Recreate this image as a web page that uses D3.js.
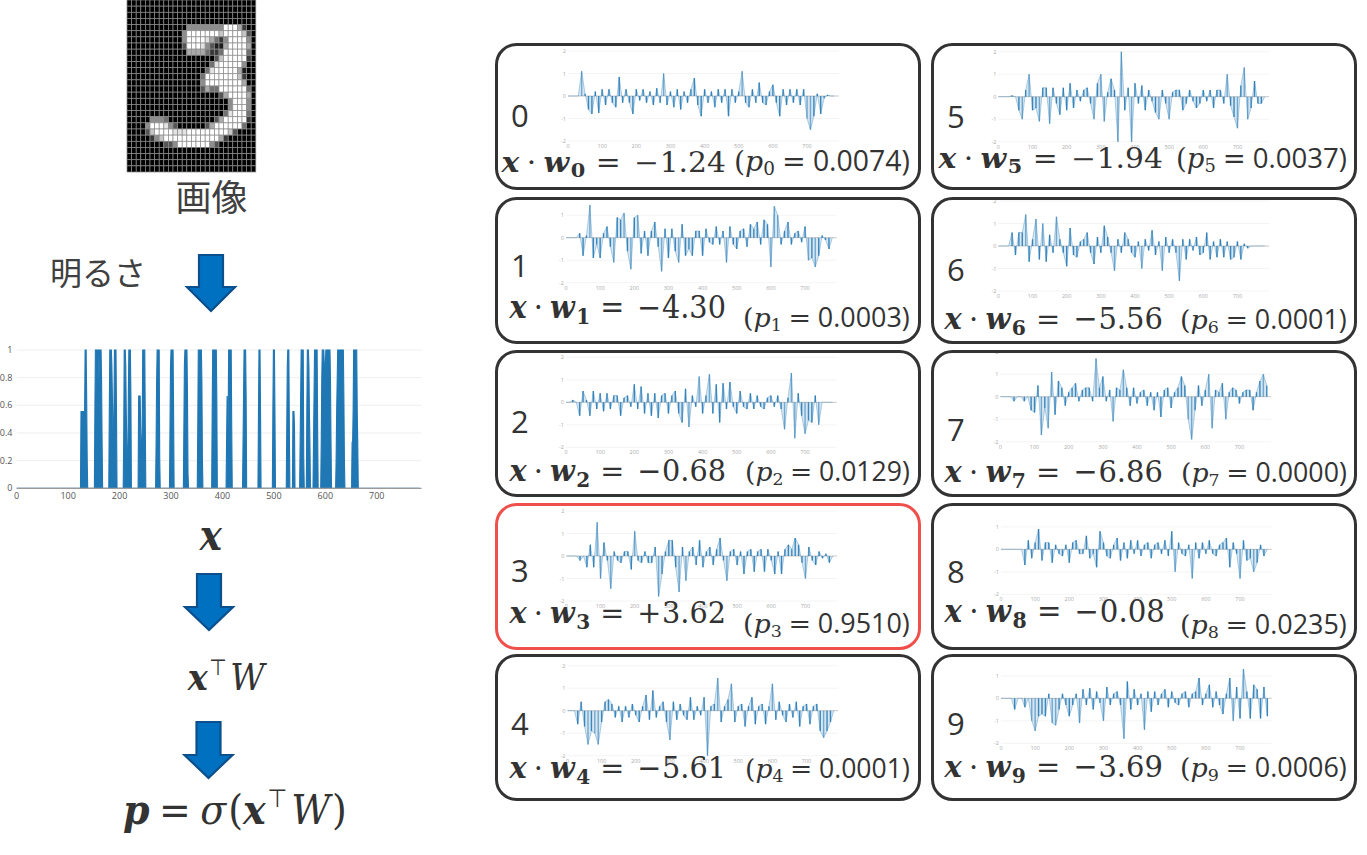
<!DOCTYPE html>
<html>
<head>
<meta charset="utf-8">
<script src="https://cdn.jsdelivr.net/npm/d3@7"></script>
<style>
  html, body { margin: 0; padding: 0; background: #fff; }
  svg { display: block; }
</style>
</head>
<body>
<svg id="chart" width="1367" height="855"></svg>
<script>
// 28x28 input image, one string per row, 0 = black .. 9 = white
const digitImage = [
  "0000000000000000000000000000",
  "0000000000000000000000000000",
  "0000000000000000000000000000",
  "0000000000000000000000000000",
  "0000000000000555555559996200",
  "0000000000005999999979999730",
  "0000000000005999986425999950",
  "0000000000003999853116999960",
  "0000000000000666642249999940",
  "0000000000000000000379999920",
  "0000000000000000004899999500",
  "0000000000000000048999996100",
  "0000000000000000499999997200",
  "0000000000000000599999999600",
  "0000000000000000364499999940",
  "0000000000000000000036999960",
  "0000000000000000000000599950",
  "0000000000000000000000599950",
  "0000000000000000000004899940",
  "0000055540000000000369999920",
  "0000599985300000036999999400",
  "0000379999888999999999730000",
  "0000025799999999999962000000",
  "0000000033599999995300000000",
  "0000000000000000000000000000",
  "0000000000000000000000000000",
  "0000000000000000000000000000",
  "0000000000000000000000000000"
];

const xTicks = [0, 100, 200, 300, 400, 500, 600, 700];
const brightTicks = [0, 0.2, 0.4, 0.6, 0.8, 1];
const weightTicks = [-2, -1, 0, 1, 2];

// class labels, scores x·w and probabilities
const classes = [0, 1, 2, 3, 4, 5, 6, 7, 8, 9];
const scores = [-1.24, -4.30, -0.68, 3.62, -5.61, -1.94, -5.56, -6.86, -0.08, -3.69];
const probs = [0.0074, 0.0003, 0.0129, 0.9510, 0.0001, 0.0037, 0.0001, 0.0000, 0.0235, 0.0006];

// weights, one value every 10 pixel indices (0..780)
const weights0 = [
  0, 0, 0, 0, 1.1, 0.1, -0.6, -0.8, 0.2, -0.75,
  0.3, -0.4, 0.3, -0.3, -0.5, 0.85, -0.3, 0.3, -0.3, -0.8,
  0.3, -0.2, 0.3, -0.3, 0.2, -0.4, 0.35, -0.3, 1.0, -0.4,
  0.2, -0.5, 0.3, -0.6, 0.2, -0.3, 0.3, 0.8, -0.4, -0.9,
  0.3, -0.3, 0.2, -0.5, 0.3, -0.3, 0.3, -0.9, 0.3, -0.3,
  0.2, 1.1, -0.3, -0.5, 0.3, -0.3, 0.6, -0.3, -0.4, 0.2,
  0.5, -0.3, -0.9, 0.3, -0.4, 0.3, -0.3, 0.3, -0.4, 0.3,
  -1.0, -1.5, -0.9, 0.1, -0.8, -0.1, 0.05, 0, 0];
const weights1 = [
  0, 0, 0, 0, 0.2, -0.8, 0.1, 1.45, -0.9, -0.3,
  -0.9, 0.2, 0.5, -0.4, -1.1, 0.9, 0.8, 1.1, -0.6, -1.4,
  0.9, 1.0, -0.7, 0.3, -0.8, 0.3, 0.7, -0.4, -1.5, 0.4,
  -0.9, 0.4, -0.6, -1.1, 0.6, -0.8, -0.5, -0.8, 0.3, 0.3,
  -0.8, 0.4, -0.2, -0.3, 0.5, -0.3, 0.3, -1.1, 0.5, -0.3,
  -0.5, 0.3, 0.4, -0.4, 0.6, 0.4, 0.7, -0.3, 0.8, 0.6,
  -1.3, 1.4, 1.0, -0.3, 0.3, 0.7, -0.3, 0.2, 0.3, -0.2,
  0.5, -1.0, -0.9, -1.3, -0.8, 0.1, -0.1, -0.5, 0];
const weights2 = [
  0, 0, 0.1, 0, -0.6, 0.5, 0.1, -0.6, 0.5, -0.3,
  0.4, -0.4, 0.4, -0.3, 0.3, 0.3, -0.6, 0.2, 0.3, -0.2,
  0.8, -0.3, 0.7, -0.5, 0.4, -0.6, 0.4, -0.7, 0.3, 0.4,
  -0.5, 0.3, 0.5, -0.5, -0.9, 0.6, -1.1, 0.3, -0.2, 1.15,
  -0.5, 0.3, 1.25, -0.5, 0.8, -0.9, 0.85, -0.3, 0.9, -0.2,
  -0.5, 0.5, -0.2, -0.3, 0.4, -0.3, 0.3, -0.2, -0.3, 0.2,
  0.3, -0.2, 0.3, -0.3, -1.2, 0.2, 1.3, -1.6, 0.4, -0.6,
  -1.4, -0.8, -0.9, 0.3, -1.0, 0, 0, 0, 0];
const weights3 = [
  0, 0, 0, 0, -0.2, 0, -0.5, 0.5, -0.5, 1.5,
  -1.0, 0.6, -0.2, -1.45, 0.2, -0.2, -0.3, 0.2, 0.2, -0.6,
  1.1, -0.2, -0.3, 0.2, -0.3, -0.3, 0.4, -1.8, -0.8, 0.2,
  0.7, 0.7, -0.5, -1.6, 0.4, -1.1, 0.2, 0.4, -0.4, 0.7,
  -0.5, 0.2, 0.4, -0.4, 0.3, 0.8, -0.2, -1.1, 0.2, 0.3,
  -0.4, 0.2, -0.8, 0.2, 0.3, -0.7, 0.2, 0.3, -0.7, 0.3,
  -0.2, -0.8, 0.2, -0.8, 0.3, 0.5, 0.3, 0.8, 0.5, -0.3,
  -1.0, 0.4, -0.2, -0.4, 0.2, -0.1, 0.1, -0.3, 0];
const weights4 = [
  0, 0, 0, -0.6, 0.4, -0.7, -1.5, -0.9, -1.0, -1.5,
  -0.5, 0.4, 0.5, 0.3, -0.3, 0.2, -0.5, 0.2, -0.3, 0.3,
  -0.2, -0.5, 0.2, 0.7, -0.4, 0.9, -0.3, 0.2, 0.4, -0.5,
  -1.3, 0.4, -0.4, 0.3, -0.2, -0.4, 0.6, -0.4, 0.2, -0.2,
  0.6, -2.0, 0.2, 0.3, 1.45, -0.5, 0.2, 0.5, 1.2, -0.5,
  0.2, 0.3, -0.7, 0.2, 0.6, -0.6, 0.2, 0.3, -0.6, 0.2,
  1.2, -0.4, 0.4, -0.2, -0.5, 0.3, -0.3, 0.4, -0.7, 0.2,
  0.3, -0.6, 0.2, 0.3, -0.9, -1.2, -0.9, -0.5, 0];
const weights5 = [
  0, 0, 0, 0, 0.05, 0, -0.6, -1.0, 0.3, 1.0,
  -0.6, -0.5, -1.1, 0.4, 0.4, -1.2, 0.4, -0.3, -0.8, 0.4,
  -0.6, 0.6, -0.5, 0.3, -0.2, 0.3, 0.4, -0.3, -1.0, 0.6,
  1.0, -1.1, 0.2, 0.8, 0.3, -2.0, 2.0, -0.6, 0.4, -2.0,
  0.6, -0.3, 0.5, -0.6, 0.3, -0.2, -0.7, -1.0, 0.3, -0.3,
  -1.0, 0.2, 0.3, 0.3, -0.6, -0.3, 0.3, -0.2, -0.5, -0.3,
  0.3, -0.2, 0.3, -0.5, 0.3, 0.3, -0.3, 1.0, -0.4, -0.9,
  -1.4, 0.5, 1.3, -1.0, -0.5, 0.7, -0.3, -0.3, 0];
const weights6 = [
  0, 0, 0, 0, 0.6, -0.4, 0.6, 0.6, 1.4, -0.7,
  0.3, 1.2, -0.6, 1.0, -0.7, 0.5, -0.3, 1.3, 0.3, -0.3,
  -0.9, 0.8, -0.4, -0.5, 0.2, 0.3, 0.6, -0.3, -0.8, 0.4,
  -0.3, 0.9, 0.4, -0.3, -1.1, 0.3, -0.3, 0.6, 0.3, -0.3,
  -0.5, 0.2, -1.0, 0.3, -0.2, 0.7, -0.4, 0.2, -1.1, 0.4,
  -0.3, 0.3, -0.3, -1.55, 0.3, -0.6, 0.3, -0.2, 0.4, -0.4,
  -0.3, 0.6, -0.6, 0.2, -0.5, 0.3, -0.5, 0.2, -0.6, -0.5,
  0.2, -0.6, 0.1, -0.1, 0, 0, 0, 0, 0];
const weights7 = [
  0, 0, 0, 0, -0.2, 0, 0, -0.2, 0, -0.6,
  -0.7, 0.5, -1.7, -0.5, -1.4, 1.1, -0.8, 0.7, 0.4, -0.4,
  0.2, 0.4, 0.6, -0.2, 0.3, 0.4, 0.4, -0.2, 1.7, 0.4,
  0.9, -0.2, 0.3, -1.1, 0.4, 0.3, 1.2, 0.4, -0.4, 0.4,
  -0.3, 0.2, 0.3, -0.4, 0.2, -0.6, 0.2, -0.9, 0.3, 0.4,
  -0.5, 0.2, 0.4, 0.9, 0.5, -1.0, -1.9, -0.6, 0.5, -0.4,
  0.3, 1.0, -1.4, 0.3, 0.2, 0.6, -1.0, 0.2, 0.4, 0.3,
  -0.3, 0.2, 0.3, 0.3, -0.6, 0.2, 0.7, 1.0, 0.5];
const weights8 = [
  0, 0, 0, 0, 0, 0, 0, -0.7, 0.4, -0.4,
  0.3, 0.9, -0.5, 0.3, 0.3, -0.6, 0.2, -0.2, -0.3, 0.2,
  -0.6, 0.3, 0.4, -0.2, -0.2, 0.6, -0.4, -0.2, -0.8, 0.8,
  0.3, -0.3, -0.4, 0.2, 0.5, -0.5, 0.3, -0.4, 0.4, -0.2,
  0.4, -0.3, 0.2, 0.3, -0.4, 0.2, 0.3, -0.2, 0.4, -0.3,
  0.8, -1.0, 0.3, -0.2, -0.3, 0.2, -1.3, 0.3, -0.4, 0.3,
  -0.2, 0.4, -0.2, -0.3, 0.2, 0.3, 0.5, -0.8, 0.3, -0.2,
  -1.3, 0.4, -0.5, -0.4, -1.0, -0.6, 0.2, -0.3, 0];
const weights9 = [
  0, 0, 0, 0, -0.5, 0, 0, -0.4, 0, -1.0,
  -1.45, -0.8, -0.7, -0.8, 0.2, -1.1, -1.2, -0.5, 0.2, -0.3,
  -0.8, -0.3, 0.2, -1.1, 0.4, -0.3, 0.45, -0.5, 0.3, -0.2,
  -1.0, 0.5, -0.3, 0.2, 0.3, -0.3, -1.8, 0.75, -0.5, 0.4,
  -0.3, 0.2, -1.4, 0.3, -0.6, 0.3, -0.3, 0.2, 0.4, -0.4,
  0.3, -0.2, -0.3, 0.2, 0.3, -0.4, 0.2, 0.3, 0.9, -0.3,
  0.2, 0.6, -0.4, 0.3, -0.3, -0.7, 0.2, 0.9, -1.0, 0.5,
  -0.9, 1.3, 0.3, -0.9, 0.6, 0.4, -0.9, 0.5, -0.8];
const weightSeries = [weights0, weights1, weights2, weights3, weights4,
                      weights5, weights6, weights7, weights8, weights9];
const weightStep = 10;
const nPixels = 784;

// ---------- layout ----------
const ink = '#333';
const blue = '#1f77b4';
const panelLeft = [495, 931];
const panelTop = [43, 197, 350, 503, 654];
const panelW = 426, panelH = 147;
// origin (x of index 0, y of weight 0) of each small chart
const miniOrigin = [[568, 96], [566, 237.7], [566, 402.3], [566.4, 556], [567.5, 710.7],
                    [998.4, 96.7], [998.4, 246], [1000.4, 396.7], [1001, 549.3], [1001, 698.3]];
// [x, baseline] of the class label, [x0, x1, baseline, yStretch] of formula, [x0, x1, baseline] of probability
const labelPos = [[511, 127], [511, 277], [511, 433], [511, 582], [511, 735],
                  [947, 128], [947, 281], [947, 441], [947, 583], [947, 735]];
const formulaBox = [[500, 726, 172, 0.92], [508, 726, 318, 1.08], [508, 726, 481, 1.05], [508, 726, 623, 1.05], [508, 726, 778, 1.05],
                    [937, 1163, 168, 0.92], [943, 1163, 329, 1.05], [943, 1163, 482, 1.05], [943, 1165, 622, 1.05], [943, 1163, 777, 1.05]];
const probBox = [[734, 910, 171], [743, 910, 327], [745, 910, 481], [743, 910, 633], [745, 910, 778],
                 [1176, 1347, 168], [1180, 1347, 329], [1181, 1347, 482], [1180, 1347, 634], [1180, 1347, 777]];

const svg = d3.select('#chart');

// scale a text element so that it spans [x0, x1] with its baseline at y
function fitText(t, x0, x1, y, sy = 1) {
  const b = t.node().getBBox();
  const k = (x1 - x0) / b.width;
  t.attr('transform', `translate(${x0 - b.x * k},${y}) scale(${k},${k * sy})`);
}

// ---------- input image ----------
const cellX = d3.scaleBand().domain(d3.range(28)).range([127, 255.8]);
const cellY = d3.scaleBand().domain(d3.range(28)).range([0, 172]);
const pixels = digitImage.flatMap((row, r) => row.split('').map((ch, c) => ({ r, c, v: +ch / 9 })));

svg.append('g').selectAll('rect').data(pixels).join('rect')
  .attr('x', d => cellX(d.c))
  .attr('y', d => cellY(d.r))
  .attr('width', cellX.bandwidth())
  .attr('height', cellY.bandwidth())
  .attr('fill', d => { const g = Math.round(d.v * 255); return d3.rgb(g, g, g); })
  .attr('stroke', '#8c8c8c')
  .attr('stroke-width', 0.7);

svg.append('text')
  .attr('x', 211.5).attr('y', 210.5)
  .attr('text-anchor', 'middle')
  .attr('font-family', '"Noto Sans CJK JP"')
  .attr('font-size', 36)
  .attr('fill', '#404040')
  .text('画像');

svg.append('text')
  .attr('x', 50).attr('y', 284.5)
  .attr('font-family', '"Noto Sans CJK JP"')
  .attr('font-size', 32)
  .attr('fill', '#404040')
  .text('明るさ');

// ---------- arrows ----------
function arrow(cx, top, headY, tip) {
  const sw = 12, hw = 24;
  const pts = [[cx - sw, top], [cx + sw, top], [cx + sw, headY], [cx + hw, headY],
               [cx, tip], [cx - hw, headY], [cx - sw, headY]];
  svg.append('path')
    .attr('d', d3.line()(pts) + 'Z')
    .attr('fill', '#0070c0')
    .attr('stroke', '#0b4f8c')
    .attr('stroke-width', 2.2)
    .attr('stroke-linejoin', 'miter');
}
arrow(211, 255, 287, 311);
arrow(209, 574, 607, 630);
arrow(208.5, 722, 755, 778);

// ---------- brightness vector x ----------
const xValues = pixels.map(d => d.v);
const bx = d3.scaleLinear().domain([0, nPixels]).range([16.7, 420]);
const by = d3.scaleLinear().domain([0, 1]).range([488.3, 350]);

const gx = svg.append('g');
gx.selectAll('line.grid').data(brightTicks.slice(1)).join('line')
  .attr('x1', bx(0)).attr('x2', 421.5)
  .attr('y1', d => by(d)).attr('y2', d => by(d))
  .attr('stroke', '#efefef').attr('stroke-width', 1);

gx.append('path')
  .datum(xValues)
  .attr('d', d3.area().x((d, i) => bx(i)).y0(by(0)).y1(d => by(d)))
  .attr('fill', blue)
  .attr('stroke', blue)
  .attr('stroke-width', 1.1);

gx.append('line')
  .attr('x1', bx(0)).attr('x2', 421.5)
  .attr('y1', by(0)).attr('y2', by(0))
  .attr('stroke', '#9a9a9a').attr('stroke-width', 1.3);

gx.selectAll('text.yt').data(brightTicks).join('text')
  .attr('x', 12.5).attr('y', d => by(d) + 3)
  .attr('text-anchor', 'end')
  .attr('font-family', '"Open Sans"').attr('font-size', 9)
  .attr('fill', '#555')
  .text(d => d3.format('~g')(d));

gx.selectAll('text.xt').data(xTicks).join('text')
  .attr('x', d => bx(d)).attr('y', 498.5)
  .attr('text-anchor', 'middle')
  .attr('font-family', '"Open Sans"').attr('font-size', 9)
  .attr('fill', '#555')
  .text(d => d);

// ---------- left formulas ----------
const bi = t => t.attr('font-weight', 'bold').attr('font-style', 'italic');

const fx = svg.append('text').attr('font-family', '"DejaVu Serif"').attr('font-size', 20).attr('fill', ink);
bi(fx.append('tspan')).text('x');
fitText(fx, 198, 224, 550, 1.15);

const fxw = svg.append('text').attr('font-family', '"DejaVu Serif"').attr('font-size', 20).attr('fill', ink);
bi(fxw.append('tspan')).text('x');
fxw.append('tspan').attr('font-family', '"DejaVu Sans"').attr('font-size', 12).attr('dy', -8).attr('dx', 1).text('⊤');
fxw.append('tspan').attr('font-style', 'italic').attr('dy', 8).attr('dx', 2).text('W');
fitText(fxw, 186, 267, 690, 1.1);

const fp = svg.append('text').attr('font-family', '"DejaVu Serif"').attr('font-size', 20).attr('fill', ink);
bi(fp.append('tspan')).text('p');
fp.append('tspan').attr('dx', 5).text('=');
fp.append('tspan').attr('dx', 5).attr('font-style', 'italic').text('σ');
fp.append('tspan').attr('dx', 1).text('(');
bi(fp.append('tspan')).text('x');
fp.append('tspan').attr('font-family', '"DejaVu Sans"').attr('font-size', 12).attr('dy', -8).attr('dx', 1).text('⊤');
fp.append('tspan').attr('font-style', 'italic').attr('dy', 8).attr('dx', 2).text('W');
fp.append('tspan').attr('dx', 1).text(')');
fitText(fp, 123, 347, 824, 1.1);

// ---------- class panels ----------
const best = d3.maxIndex(probs);
const defs = svg.append('defs');

classes.forEach((cls, i) => {
  const left = panelLeft[Math.floor(i / 5)];
  const top = panelTop[i % 5];
  const g = svg.append('g');

  defs.append('clipPath').attr('id', `clip${i}`)
    .append('rect')
    .attr('x', left + 3).attr('y', top + 3)
    .attr('width', panelW - 6).attr('height', panelH - 6).attr('rx', 18);

  g.append('rect')
    .attr('x', left + 1.5).attr('y', top + 1.5)
    .attr('width', panelW - 3).attr('height', panelH - 3)
    .attr('rx', 20).attr('fill', '#fff');

  // small weight chart
  const [ox, oy] = miniOrigin[i];
  const wx = d3.scaleLinear().domain([0, nPixels]).range([ox, ox + nPixels * 0.3415]);
  const wy = d3.scaleLinear().domain([-2, 2]).range([oy + 45, oy - 45]);
  const mini = g.append('g').attr('clip-path', `url(#clip${i})`);

  mini.selectAll('line.grid').data(weightTicks.filter(v => v !== 0)).join('line')
    .attr('x1', wx(0)).attr('x2', wx(nPixels) + 3)
    .attr('y1', d => wy(d)).attr('y2', d => wy(d))
    .attr('stroke', '#f1f1f1').attr('stroke-width', 0.8);
  mini.append('line')
    .attr('x1', wx(0)).attr('x2', wx(nPixels) + 3)
    .attr('y1', wy(0)).attr('y2', wy(0))
    .attr('stroke', '#c8c8c8').attr('stroke-width', 1);

  const series = weightSeries[i];
  // thin trace through the samples, plus a spike from zero at every sample
  mini.append('path').datum(series)
    .attr('d', d3.area().x((d, j) => wx(j * weightStep)).y0(wy(0)).y1(d => wy(d)))
    .attr('fill', blue).attr('fill-opacity', 0.18);
  mini.append('path').datum(series)
    .attr('d', d3.line().x((d, j) => wx(j * weightStep)).y(d => wy(d)))
    .attr('fill', 'none').attr('stroke', blue).attr('stroke-width', 0.6).attr('stroke-opacity', 0.55);
  mini.selectAll('line.spike').data(series).join('line')
    .attr('x1', (d, j) => wx(j * weightStep)).attr('x2', (d, j) => wx(j * weightStep))
    .attr('y1', wy(0)).attr('y2', d => wy(d))
    .attr('stroke', blue).attr('stroke-width', 1.4)
    .attr('stroke-opacity', d => Math.abs(d) > 0.9 ? 0.55 : 0.85);

  mini.selectAll('text.yt').data(weightTicks).join('text')
    .attr('x', wx(0) - 2).attr('y', d => wy(d) + 2)
    .attr('text-anchor', 'end')
    .attr('font-family', '"Open Sans"').attr('font-size', 5.5)
    .attr('fill', '#aaa')
    .text(d => d);
  mini.selectAll('text.xt').data(xTicks).join('text')
    .attr('x', d => wx(d)).attr('y', wy(-2) + 7)
    .attr('text-anchor', 'middle')
    .attr('font-family', '"Open Sans"').attr('font-size', 5.5)
    .attr('fill', '#aaa')
    .text(d => d);

  // class label
  g.append('text')
    .attr('x', labelPos[i][0]).attr('y', labelPos[i][1])
    .attr('font-family', '"Open Sans"').attr('font-size', 31)
    .attr('fill', ink)
    .text(cls);

  // x · w_k = score
  const f = g.append('text').attr('font-family', '"DejaVu Serif"').attr('font-size', 20).attr('fill', ink);
  bi(f.append('tspan')).text('x');
  f.append('tspan').attr('dx', 5).text('·');
  bi(f.append('tspan').attr('dx', 5)).text('w');
  f.append('tspan').attr('dx', 1).attr('dy', 4).attr('font-weight', 'bold').attr('font-size', 14).text(cls);
  f.append('tspan').attr('dx', 7).attr('dy', -4).text('=');
  f.append('tspan').attr('dx', 9).text(scores[i] < 0 ? '−' : '+');
  f.append('tspan').attr('dx', 0.5).text(Math.abs(scores[i]).toFixed(2));
  fitText(f, formulaBox[i][0], formulaBox[i][1], formulaBox[i][2], formulaBox[i][3]);

  // (p_k = prob)
  const p = g.append('text').attr('font-size', 20).attr('fill', ink);
  p.append('tspan').attr('font-family', '"DejaVu Serif"').text('(');
  p.append('tspan').attr('font-family', '"DejaVu Serif"').attr('font-style', 'italic').text('p');
  p.append('tspan').attr('font-family', '"DejaVu Serif"').attr('font-size', 13).attr('dy', 3).text(cls);
  p.append('tspan').attr('font-family', '"DejaVu Serif"').attr('dx', 5).attr('dy', -3).text('=');
  p.append('tspan').attr('font-family', '"Open Sans"').attr('dx', 5).text(probs[i].toFixed(4) + ')');
  fitText(p, probBox[i][0], probBox[i][1], probBox[i][2]);

  // border on top
  g.append('rect')
    .attr('x', left + 1.5).attr('y', top + 1.5)
    .attr('width', panelW - 3).attr('height', panelH - 3)
    .attr('rx', 20).attr('fill', 'none')
    .attr('stroke', i === best ? '#f0504c' : '#333')
    .attr('stroke-width', 3);
});
</script>
</body>
</html>
